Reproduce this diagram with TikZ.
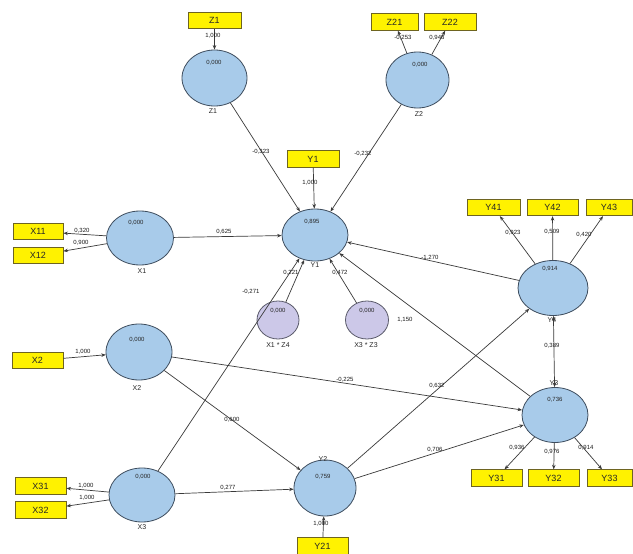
\documentclass[tikz,border=0pt]{standalone}
\usepackage{fontspec}
\setmainfont{Liberation Sans}
\usetikzlibrary{shapes.geometric,arrows.meta}
\definecolor{lvfill}{HTML}{A8CBEA}
\definecolor{lvborder}{HTML}{3E4D5E}
\definecolor{ivfill}{HTML}{CCC8E8}
\definecolor{ivborder}{HTML}{5A5A6A}
\definecolor{indfill}{HTML}{FFF200}
\definecolor{indborder}{HTML}{6E6420}
\definecolor{connc}{HTML}{3A3A3A}
\begin{document}
\begin{tikzpicture}[x=1pt,y=-1pt,
  latent/.style={ellipse, fill=lvfill, draw=lvborder, line width=0.8pt, inner sep=0pt},
  inter/.style={ellipse, fill=ivfill, draw=ivborder, line width=0.8pt, inner sep=0pt},
  indbox/.style={rectangle, fill=indfill, draw=indborder, line width=0.8pt, inner sep=0pt,
    minimum height=16.5pt, font=\fontsize{9}{10}\selectfont, text=black!85},
  val/.style={inner sep=0pt, font=\fontsize{6}{7}\selectfont, text=black!85},
  nm/.style={inner sep=0pt, font=\fontsize{7}{8}\selectfont, text=black!85},
  lbl/.style={inner sep=0pt, font=\fontsize{6}{7}\selectfont, text=black!90},
  conn/.style={draw=connc, line width=0.7pt, -{Stealth[length=4.5pt,width=3.5pt]}},
  bconn/.style={draw=connc, line width=0.7pt, {Stealth[length=4.5pt,width=3.5pt]}-{Stealth[length=4.5pt,width=3.5pt]}}
]
\useasboundingbox[fill=white] (0,0) rectangle (633,554);

% latent variables
\node[latent, minimum width=65pt, minimum height=56pt] (Z1) at (214.5,78) {};
\node[latent, minimum width=63pt, minimum height=56pt] (Z2) at (417.5,80) {};
\node[latent, minimum width=66pt, minimum height=52pt] (Y1) at (315,235) {};
\node[latent, minimum width=67pt, minimum height=54pt] (X1) at (140,238) {};
\node[latent, minimum width=66pt, minimum height=56pt] (X2) at (139,352) {};
\node[latent, minimum width=66pt, minimum height=54pt] (X3) at (142,495) {};
\node[latent, minimum width=62pt, minimum height=56pt] (Y2) at (325,488) {};
\node[latent, minimum width=70pt, minimum height=55pt] (Y4) at (553,288) {};
\node[latent, minimum width=66pt, minimum height=55pt] (Y3) at (555,415) {};
\node[inter, minimum width=42pt, minimum height=38pt] (XZ4) at (278,320) {};
\node[inter, minimum width=43pt, minimum height=38pt] (XZ3) at (367,320) {};

% values inside
\node[val] (vZ1) at (214,63) {0,000};
\node[val] (vZ2) at (420,65) {0,000};
\node[val] (vY1) at (312,222) {0,895};
\node[val] (vX1) at (136,223) {0,000};
\node[val] (vX2) at (137,340) {0,000};
\node[val] (vX3) at (143,477) {0,000};
\node[val] (vY2) at (323,477) {0,759};
\node[val] (vY4) at (550,269) {0,914};
\node[val] (vY3) at (555,400) {0,736};
\node[val] (vXZ4) at (278,311) {0,000};
\node[val] (vXZ3) at (367,311) {0,000};

% names
\node[nm] (nZ1) at (213,111) {Z1};
\node[nm] (nZ2) at (419,114) {Z2};
\node[nm] (nY1) at (315,265) {Y1};
\node[nm] (nX1) at (142,271) {X1};
\node[nm] (nX2) at (137,388) {X2};
\node[nm] (nX3) at (142,527) {X3};
\node[nm] (nY2) at (323,459) {Y2};
\node[nm] (nY4) at (552,320) {Y4};
\node[nm] (nY3) at (554,383) {Y3};
\node[nm] (nXZ4) at (278,345) {X1 * Z4};
\node[nm] (nXZ3) at (366,345) {X3 * Z3};

% indicators
\node[indbox, minimum width=53pt] (bZ1) at (214.5,20.5) {Z1};
\node[indbox, minimum width=47pt] (bZ21) at (394.5,22) {Z21};
\node[indbox, minimum width=52pt] (bZ22) at (450,22) {Z22};
\node[indbox, minimum width=52pt] (bY1) at (313,159) {Y1};
\node[indbox, minimum width=50pt] (bX11) at (38,231.5) {X11};
\node[indbox, minimum width=50pt] (bX12) at (38,255.5) {X12};
\node[indbox, minimum width=53pt] (bY41) at (493.5,207.5) {Y41};
\node[indbox, minimum width=51pt] (bY42) at (552.5,207.5) {Y42};
\node[indbox, minimum width=46pt] (bY43) at (609,207.5) {Y43};
\node[indbox, minimum width=51pt] (bX2) at (37.5,360.5) {X2};
\node[indbox, minimum width=51pt] (bY31) at (496.5,478) {Y31};
\node[indbox, minimum width=51pt] (bY32) at (553.5,478) {Y32};
\node[indbox, minimum width=45pt] (bY33) at (609.5,478) {Y33};
\node[indbox, minimum width=51pt] (bX31) at (40.5,486) {X31};
\node[indbox, minimum width=51pt] (bX32) at (40.5,510) {X32};
\node[indbox, minimum width=51pt] (bY21) at (322.5,546) {Y21};

% connectors
\draw[conn] (bZ1) -- (Z1);
\draw[conn] (Z2) -- (bZ21);
\draw[conn] (Z2) -- (bZ22);
\draw[conn] (bY1) -- (Y1);
\draw[conn] (Z1) -- (Y1);
\draw[conn] (Z2) -- (Y1);
\draw[conn] (X1) -- (bX11);
\draw[conn] (X1) -- (bX12);
\draw[conn] (X1) -- (Y1);
\draw[conn] (XZ4) -- (Y1);
\draw[conn] (XZ3) -- (Y1);
\draw[conn] (X3) -- (Y1);
\draw[conn] (Y4) -- (Y1);
\draw[conn] (Y3) -- (Y1);
\draw[conn] (Y4) -- (bY41);
\draw[conn] (Y4) -- (bY42);
\draw[conn] (Y4) -- (bY43);
\draw[bconn] (Y4) -- (Y3);
\draw[conn] (bX2) -- (X2);
\draw[conn] (X2) -- (Y3);
\draw[conn] (X2) -- (Y2);
\draw[conn] (X3) -- (Y2);
\draw[conn] (Y2) -- (Y4);
\draw[conn] (Y2) -- (Y3);
\draw[conn] (bY21) -- (Y2);
\draw[conn] (Y3) -- (bY31);
\draw[conn] (Y3) -- (bY32);
\draw[conn] (Y3) -- (bY33);
\draw[conn] (X3) -- (bX31);
\draw[conn] (X3) -- (bX32);

% path coefficients / loadings
\node[lbl] (l1) at (213,36) {1,000};
\node[lbl] (l2) at (403,38) {-0,253};
\node[lbl] (l3) at (437,38) {0,948};
\node[lbl] (l4) at (261,152) {-0,323};
\node[lbl] (l5) at (363,154) {-0,232};
\node[lbl] (l6) at (310,183) {1,000};
\node[lbl] (l7) at (224,232) {0,625};
\node[lbl] (l8) at (82,231) {0,320};
\node[lbl] (l9) at (81,243) {0,900};
\node[lbl] (l10) at (291,273) {0,221};
\node[lbl] (l11) at (340,273) {0,472};
\node[lbl] (l12) at (251,292) {-0,271};
\node[lbl] (l13) at (430,258) {-1,270};
\node[lbl] (l14) at (513,233) {0,923};
\node[lbl] (l15) at (552,232) {0,509};
\node[lbl] (l16) at (584,235) {0,420};
\node[lbl] (l17) at (405,320) {1,150};
\node[lbl] (l18) at (552,346) {0,389};
\node[lbl] (l19) at (83,352) {1,000};
\node[lbl] (l20) at (345,380) {-0,225};
\node[lbl] (l21) at (437,386) {0,632};
\node[lbl] (l22) at (232,420) {0,600};
\node[lbl] (l23) at (435,450) {0,706};
\node[lbl] (l24) at (517,448) {0,936};
\node[lbl] (l25) at (552,452) {0,976};
\node[lbl] (l26) at (586,448) {0,914};
\node[lbl] (l27) at (228,488) {0,277};
\node[lbl] (l28) at (86,486) {1,000};
\node[lbl] (l29) at (87,498) {1,000};
\node[lbl] (l30) at (321,524) {1,000};
\end{tikzpicture}
\end{document}
